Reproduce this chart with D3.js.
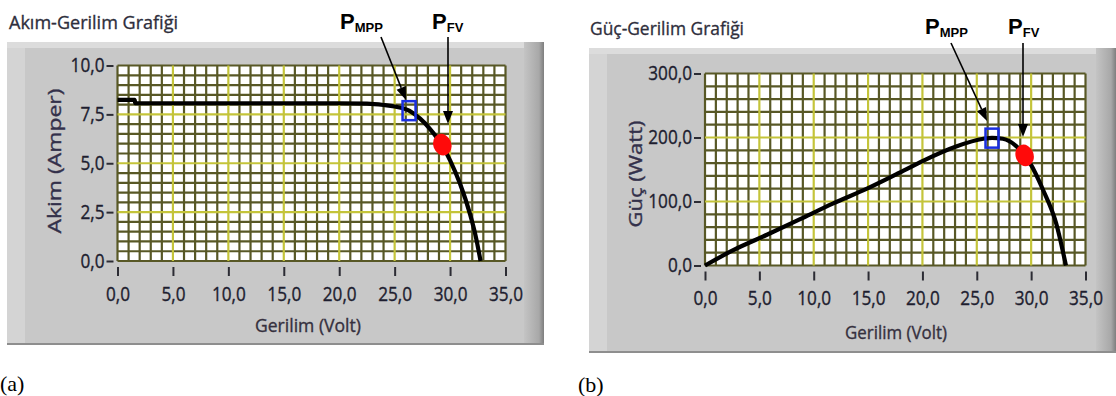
<!DOCTYPE html>
<html>
<head>
<meta charset="utf-8">
<script src="https://cdn.jsdelivr.net/npm/d3@7"></script>
<style>
  body { margin: 0; background: #fff; }
  svg { display: block; }
</style>
</head>
<body>
<div id="chart"></div>
<script>
// values
const ivVolt    = [0, 1.55, 1.6, 5, 10, 15, 20, 22.5, 24, 25, 26.3, 27.3, 28.2, 29.3, 30, 30.9, 31.8, 32.3, 32.75];
const ivCurrent = [8.24, 8.24, 8.07, 8.07, 8.07, 8.07, 8.07, 8.05, 7.98, 7.9, 7.69, 7.28, 6.75, 5.9, 5.15, 3.95, 2.4, 1.3, 0];

const pvVolt  = [0, 2.6, 5.7, 8.7, 11.8, 14.9, 17.9, 20.1, 23.1, 25.6, 26.4, 27.4, 28.6, 29.9, 31.1, 32.3, 33.2];
const pvPower = [0, 24, 48, 72, 97, 120, 145, 164, 186, 198, 199.5, 198, 187, 160, 118, 66, 0];

const voltTicks    = [0, 5, 10, 15, 20, 25, 30, 35];
const currentTicks = [0, 2.5, 5, 7.5, 10];
const powerTicks   = [0, 100, 200, 300];

const ivMpp = [26.3, 7.69], ivFv = [29.3, 5.95];
const pvMpp = [26.4, 199],  pvFv = [29.4, 172];

const fmt = v => d3.format(".1f")(v).replace(".", ",");

const svg = d3.select("#chart").append("svg")
  .attr("width", 1116).attr("height", 396);

const defs = svg.append("defs");
const grad = defs.append("linearGradient").attr("id", "edge");
grad.append("stop").attr("offset", "0%").attr("stop-color", "#c4c4c4");
grad.append("stop").attr("offset", "75%").attr("stop-color", "#a8a8a8");
grad.append("stop").attr("offset", "100%").attr("stop-color", "#7e7e7e");

// LabVIEW-ish condensed, slightly heavy text
function labText(sel, size, color) {
  return sel.attr("font-family", "Open Sans").attr("font-size", size)
    .attr("fill", color).attr("stroke", color).attr("stroke-width", 0.35);
}

function squeeze(sel, k) {
  sel.each(function () {
    const w = this.getComputedTextLength();
    d3.select(this).attr("textLength", w * k).attr("lengthAdjust", "spacingAndGlyphs");
  });
}

function drawPanel(o) {
  const g = svg.append("g");
  const f = o.frame;

  // grey 3D frame
  g.append("rect").attr("x", f.x).attr("y", f.y).attr("width", f.w).attr("height", f.h).attr("fill", "#c8c8c8");
  g.append("rect").attr("x", f.x).attr("y", f.y).attr("width", 18).attr("height", f.h).attr("fill", "#d4d4d4");
  g.append("rect").attr("x", f.x).attr("y", f.y).attr("width", f.w).attr("height", 6).attr("fill", "#dcdcdc");
  g.append("rect").attr("x", f.x + f.w - 20).attr("y", f.y).attr("width", 20).attr("height", f.h).attr("fill", "url(#edge)");
  g.append("rect").attr("x", f.x).attr("y", f.y + f.h - 2).attr("width", f.w).attr("height", 2).attr("fill", "#8e8e8e");

  // title
  labText(svg.append("text"), 19, "#2e2e3c")
    .attr("x", o.title.x).attr("y", o.title.y)
    .attr("textLength", o.title.w).attr("lengthAdjust", "spacingAndGlyphs")
    .text(o.title.text);

  const x = d3.scaleLinear().domain([0, 35]).range(o.xRange);
  const y = d3.scaleLinear().domain(o.yDomain).range(o.yRange);

  // plot background
  g.append("rect").attr("x", o.xRange[0]).attr("y", o.yRange[1])
    .attr("width", o.xRange[1] - o.xRange[0]).attr("height", o.yRange[0] - o.yRange[1])
    .attr("fill", "#fff");

  // grid: minor dark olive, major yellow
  const xs = d3.range(0, 35.001, 1);
  const ys = d3.range(o.yDomain[0], o.yDomain[1] + 1e-6, o.yStep);
  const isMajorX = v => v % 5 === 0 && v > 0 && v < 35;
  const isMajorY = v => o.yTicks.some(t => Math.abs(t - v) < 1e-6) && v > o.yDomain[0] && v < o.yDomain[1];
  const grid = g.append("g");
  grid.selectAll(".vx").data(xs.filter(v => !isMajorX(v))).join("line")
    .attr("x1", d => x(d)).attr("x2", d => x(d)).attr("y1", o.yRange[0]).attr("y2", o.yRange[1])
    .attr("stroke", "#585826").attr("stroke-width", 2.2);
  grid.selectAll(".hy").data(ys.filter(v => !isMajorY(v))).join("line")
    .attr("y1", d => y(d)).attr("y2", d => y(d)).attr("x1", o.xRange[0]).attr("x2", o.xRange[1])
    .attr("stroke", "#585826").attr("stroke-width", 2.2);
  grid.selectAll(".mx").data(xs.filter(isMajorX)).join("line")
    .attr("x1", d => x(d)).attr("x2", d => x(d)).attr("y1", o.yRange[0]).attr("y2", o.yRange[1])
    .attr("stroke", "#c4c43a").attr("stroke-width", 2.2);
  grid.selectAll(".my").data(ys.filter(isMajorY)).join("line")
    .attr("y1", d => y(d)).attr("y2", d => y(d)).attr("x1", o.xRange[0]).attr("x2", o.xRange[1])
    .attr("stroke", "#c4c43a").attr("stroke-width", 2.2);

  // axes
  const yAxis = g.append("g").attr("transform", `translate(${o.xRange[0] - 4},0)`)
    .call(d3.axisLeft(y).tickValues(o.yTicks).tickSize(7).tickPadding(2).tickFormat(fmt));
  const xAxis = g.append("g").attr("transform", `translate(0,${o.yRange[0] + 6})`)
    .call(d3.axisBottom(x).tickValues(voltTicks).tickSize(9).tickPadding(11).tickFormat(fmt));
  [xAxis, yAxis].forEach(a => {
    a.select(".domain").remove();
    a.selectAll("line").attr("stroke", "#2c2c34").attr("stroke-width", 2);
    labText(a.selectAll("text"), 19.5, "#1e1e30").call(squeeze, 0.88);
  });

  // axis titles
  labText(g.append("text"), 18, "#35303e")
    .attr("x", o.xLabel.x).attr("y", o.xLabel.y).attr("text-anchor", "middle")
    .attr("textLength", o.xLabel.w).attr("lengthAdjust", "spacingAndGlyphs")
    .text("Gerilim (Volt)");
  labText(g.append("text"), 18, "#33304a")
    .attr("transform", `translate(${o.yLabel.x},${o.yLabel.y}) rotate(-90)`)
    .attr("text-anchor", "middle")
    .attr("textLength", o.yLabel.w).attr("lengthAdjust", "spacingAndGlyphs")
    .text(o.yLabel.text);

  // curve
  const line = d3.line().x(d => x(d[0])).y(d => y(d[1])).curve(d3.curveMonotoneX);
  g.append("path").datum(o.data).attr("d", line)
    .attr("fill", "none").attr("stroke", "#000").attr("stroke-width", 4.2).attr("stroke-linejoin", "round");

  // operating points
  g.append("ellipse").attr("cx", x(o.fv[0])).attr("cy", y(o.fv[1])).attr("rx", 9).attr("ry", 11)
    .attr("transform", `rotate(-20,${x(o.fv[0])},${y(o.fv[1])})`).attr("fill", "#ff0a0a");
  g.append("rect").attr("x", x(o.mpp[0]) - 6.5).attr("y", y(o.mpp[1]) - 9.5).attr("width", 13).attr("height", 19)
    .attr("fill", "none").attr("stroke", "#1a2fe0").attr("stroke-width", 2.5);

  // labels + arrows
  o.notes.forEach(n => {
    const t = svg.append("text").attr("x", n.lx).attr("y", n.ly)
      .attr("font-family", "Liberation Sans").attr("font-weight", "bold").attr("fill", "#000");
    t.append("tspan").attr("font-size", 22).text("P");
    t.append("tspan").attr("font-size", 13).attr("dy", 3).text(n.sub);
    const [x1, y1, x2, y2] = n.arrow;
    const ang = Math.atan2(y2 - y1, x2 - x1);
    const L = 13, W = 5;
    const bx = x2 - L * Math.cos(ang), by = y2 - L * Math.sin(ang);
    svg.append("line").attr("x1", x1).attr("y1", y1).attr("x2", bx).attr("y2", by)
      .attr("stroke", "#000").attr("stroke-width", 1.6);
    svg.append("polygon").attr("fill", "#000").attr("points", [
      [x2, y2],
      [bx + W * Math.sin(ang), by - W * Math.cos(ang)],
      [bx - W * Math.sin(ang), by + W * Math.cos(ang)]
    ].map(p => p.join(",")).join(" "));
  });

  svg.append("text").attr("x", o.tag.x).attr("y", o.tag.y)
    .attr("font-family", "Liberation Serif").attr("font-size", 22).attr("fill", "#000")
    .text(o.tag.text);
}

drawPanel({
  frame: { x: 7, y: 42, w: 537, h: 303 },
  title: { x: 9, y: 29, w: 169, text: "Akım-Gerilim Grafiği" },
  xRange: [117.5, 505.5], yRange: [261, 65.5],
  yDomain: [0, 10], yTicks: currentTicks, yStep: 0.5,
  xLabel: { x: 308, y: 332, w: 106 },
  yLabel: { x: 61, y: 161, w: 145, text: "Akim (Amper)" },
  data: d3.zip(ivVolt, ivCurrent),
  mpp: ivMpp, fv: ivFv,
  notes: [
    { lx: 340, ly: 29, sub: "MPP", arrow: [381, 37, 406, 100] },
    { lx: 432, ly: 29, sub: "FV", arrow: [448, 37, 448, 124] }
  ],
  tag: { x: 0, y: 391, text: "(a)" }
});

drawPanel({
  frame: { x: 589, y: 48, w: 527, h: 305 },
  title: { x: 590, y: 35, w: 154, text: "Güç-Gerilim Grafiği" },
  xRange: [705, 1085.5], yRange: [265.5, 73.5],
  yDomain: [0, 300], yTicks: powerTicks, yStep: 20,
  xLabel: { x: 896, y: 339, w: 102 },
  yLabel: { x: 642, y: 174, w: 107, text: "Güç (Watt)" },
  data: d3.zip(pvVolt, pvPower),
  mpp: pvMpp, fv: pvFv,
  notes: [
    { lx: 925, ly: 34, sub: "MPP", arrow: [951, 43, 987, 121] },
    { lx: 1008, ly: 34, sub: "FV", arrow: [1023, 43, 1023, 137] }
  ],
  tag: { x: 578, y: 392, text: "(b)" }
});
</script>
</body>
</html>
